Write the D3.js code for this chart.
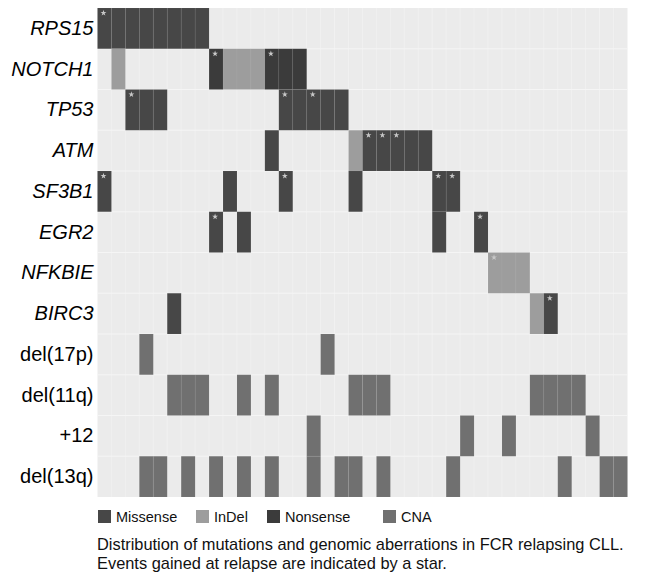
<!DOCTYPE html>
<html><head><meta charset="utf-8">
<script src="https://cdn.jsdelivr.net/npm/d3@7"></script>
<style>
body{margin:0;background:#fff;}
svg{display:block;font-family:"Liberation Sans",Arial,sans-serif;}
</style></head><body>
<svg id="chart" width="663" height="574"></svg>
<script>
// ---- data ----
const rows = ["RPS15","NOTCH1","TP53","ATM","SF3B1","EGR2","NFKBIE","BIRC3","del(17p)","del(11q)","+12","del(13q)"];
const geneRows = ["RPS15","NOTCH1","TP53","ATM","SF3B1","EGR2","NFKBIE","BIRC3"];
const samples = ["S01","S02","S03","S04","S05","S06","S07","S08","S09","S10","S11","S12","S13","S14","S15","S16","S17","S18","S19","S20",
                 "S21","S22","S23","S24","S25","S26","S27","S28","S29","S30","S31","S32","S33","S34","S35","S36","S37","S38"];
const types = ["Missense","InDel","Nonsense","CNA"];
const typeColors = ["#474747","#9d9d9d","#3b3b3b","#707070"];
// [sample index, type, gained at relapse (star)]
const evRPS15  = [[0,"Missense",1],[1,"Missense",0],[2,"Missense",0],[3,"Missense",0],[4,"Missense",0],[5,"Missense",0],[6,"Missense",0],[7,"Missense",0]];
const evNOTCH1 = [[1,"InDel",0],[8,"Nonsense",1],[9,"InDel",0],[10,"InDel",0],[11,"InDel",0],[12,"Nonsense",1],[13,"Nonsense",0],[14,"Nonsense",0]];
const evTP53   = [[2,"Missense",1],[3,"Missense",0],[4,"Missense",0],[13,"Missense",1],[14,"Missense",0],[15,"Missense",1],[16,"Missense",0],[17,"Missense",0]];
const evATM    = [[12,"Missense",0],[18,"InDel",0],[19,"Missense",1],[20,"Missense",1],[21,"Missense",1],[22,"Missense",0],[23,"Missense",0]];
const evSF3B1  = [[0,"Missense",1],[9,"Missense",0],[13,"Missense",1],[18,"Missense",0],[24,"Missense",1],[25,"Missense",1]];
const evEGR2   = [[8,"Missense",1],[10,"Missense",0],[24,"Missense",0],[27,"Missense",1]];
const evNFKBIE = [[28,"InDel",1],[29,"InDel",0],[30,"InDel",0]];
const evBIRC3  = [[5,"Missense",0],[31,"InDel",0],[32,"Missense",1]];
const evDel17p = [[3,"CNA",0],[16,"CNA",0]];
const evDel11q = [[5,"CNA",0],[6,"CNA",0],[7,"CNA",0],[10,"CNA",0],[12,"CNA",0],[18,"CNA",0],[19,"CNA",0],[20,"CNA",0],[31,"CNA",0],[32,"CNA",0],[33,"CNA",0],[34,"CNA",0]];
const evTri12  = [[15,"CNA",0],[26,"CNA",0],[29,"CNA",0],[35,"CNA",0]];
const evDel13q = [[3,"CNA",0],[4,"CNA",0],[6,"CNA",0],[8,"CNA",0],[10,"CNA",0],[12,"CNA",0],[15,"CNA",0],[17,"CNA",0],[18,"CNA",0],[20,"CNA",0],[25,"CNA",0],[33,"CNA",0],[36,"CNA",0],[37,"CNA",0]];
const eventsByRow = [evRPS15,evNOTCH1,evTP53,evATM,evSF3B1,evEGR2,evNFKBIE,evBIRC3,evDel17p,evDel11q,evTri12,evDel13q];
const caption = ["Distribution of mutations and genomic aberrations in FCR relapsing CLL.",
                 "Events gained at relapse are indicated by a star."];

// ---- build ----
const tiles = [];
eventsByRow.forEach((evs,i)=>evs.forEach(e=>tiles.push({row:rows[i],sample:samples[e[0]],type:e[1],star:e[2]})));

const svg = d3.select("#chart");
const x = d3.scaleBand().domain(samples).range([97.5,627.5]).padding(0);
const y = d3.scaleBand().domain(rows).range([8,497]).padding(0);
const color = d3.scaleOrdinal().domain(types).range(typeColors);

// panel
svg.append("rect").attr("x",x.range()[0]).attr("y",y.range()[0])
  .attr("width",x.range()[1]-x.range()[0]).attr("height",y.range()[1]-y.range()[0]).attr("fill","#ebebeb");
// grid lines
svg.append("g").selectAll("line").data(samples.slice(1)).join("line")
  .attr("x1",d=>x(d)).attr("x2",d=>x(d)).attr("y1",y.range()[0]).attr("y2",y.range()[1])
  .attr("stroke","#f1f1f1").attr("stroke-width",0.8);
svg.append("g").selectAll("line").data(rows.slice(1)).join("line")
  .attr("y1",d=>y(d)).attr("y2",d=>y(d)).attr("x1",x.range()[0]).attr("x2",x.range()[1])
  .attr("stroke","#f5f5f5").attr("stroke-width",1);

// tiles
svg.append("g").selectAll("rect").data(tiles).join("rect")
  .attr("x",d=>x(d.sample)).attr("y",d=>y(d.row))
  .attr("width",x.bandwidth()).attr("height",y.bandwidth())
  .attr("fill",d=>color(d.type))
  .attr("stroke","rgba(255,255,255,0.04)").attr("stroke-width",1);

// stars
const star = d3.symbol().type(d3.symbolStar).size(11);
svg.append("g").selectAll("path").data(tiles.filter(d=>d.star)).join("path")
  .attr("d",star)
  .attr("transform",d=>`translate(${x(d.sample)+6},${y(d.row)+5})`)
  .attr("fill","#c8c8c8");

// y axis
const ax = svg.append("g").attr("transform",`translate(${x.range()[0]},0)`)
  .call(d3.axisLeft(y).tickSize(0).tickPadding(4));
ax.select(".domain").remove();
ax.selectAll("text")
  .attr("font-family","'Liberation Sans',Arial,sans-serif")
  .attr("font-size",20).attr("fill","#000")
  .attr("font-style",d=>geneRows.includes(d)?"italic":"normal");

// legend
const leg = svg.append("g").attr("transform","translate(98,510)");
const legX = [0,98,169,285];
types.forEach((t,i)=>{
  const g = leg.append("g").attr("transform",`translate(${legX[i]},0)`);
  g.append("rect").attr("width",13).attr("height",13).attr("fill",color(t));
  g.append("text").attr("x",18).attr("y",12).attr("font-size",14.5).attr("fill","#111").text(t);
});

// caption
svg.append("g").selectAll("text").data(caption).join("text")
  .attr("x",97).attr("y",(d,i)=>550+i*19)
  .attr("font-size",16.4).attr("fill","#111").text(d=>d);
</script>
</body></html>
